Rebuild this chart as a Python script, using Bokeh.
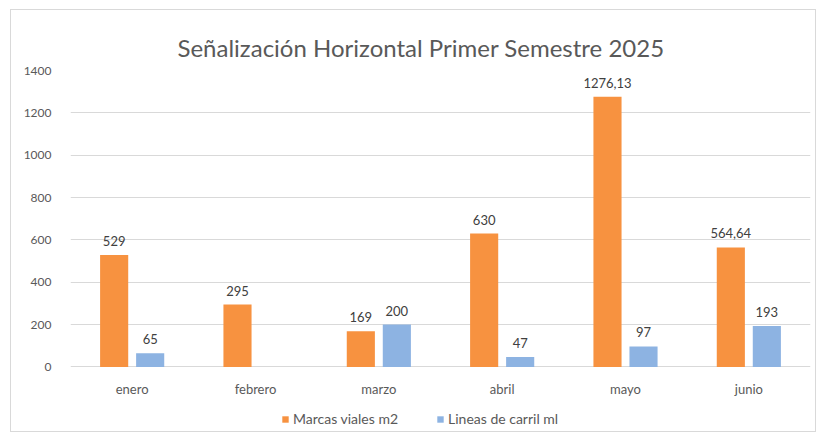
from bokeh.plotting import figure
from bokeh.models import ColumnDataSource, FactorRange, Legend, LegendItem, FixedTicker
from bokeh.transform import dodge
from bokeh.core.properties import value
from bokeh.embed import file_html
from bokeh.resources import INLINE

months = ["enero", "febrero", "marzo", "abril", "mayo", "junio"]
marcas = [529, 295, 169, 630, 1276.13, 564.64]
lineas = [65, None, 200, 47, 97, 193]
y_ticks = [0, 200, 400, 600, 800, 1000, 1200, 1400]
title_text = "Señalización Horizontal Primer Semestre 2025"
series_names = ["Marcas viales m2", "Lineas de carril ml"]

ORANGE = "#F79240"
BLUE = "#8DB3E2"
GRAY = "#595959"
FONT = "Lato"


def fmt(v):
    if v is None:
        return ""
    if float(v).is_integer():
        return str(int(v))
    return ("%.2f" % v).replace(".", ",")


src_m = ColumnDataSource(dict(x=months, y=marcas, lab=[fmt(v) for v in marcas]))
bm = [m for m, v in zip(months, lineas) if v is not None]
bv = [v for v in lineas if v is not None]
src_l = ColumnDataSource(dict(x=bm, y=bv, lab=[fmt(v) for v in bv]))

p = figure(x_range=FactorRange(*months, range_padding=0), y_range=(-300, 1400),
           width=806, height=423, output_backend="svg", toolbar_location=None,
           min_border_left=59, min_border_right=7, min_border_top=60, min_border_bottom=3)
p.styles = {"border": "1px solid #d9d9d9", "margin-left": "10px", "margin-top": "9px"}

p.title.text = title_text
p.title.align = "left"
p.title.offset = 107
p.title.standoff = 18
p.title.text_font = FONT
p.title.text_font_size = "24px"
p.title.text_font_style = "normal"
p.title.text_color = GRAY

OFF = 0.146
W = 0.228
rm = p.vbar(x=dodge("x", -OFF, range=p.x_range), top="y", width=W, source=src_m,
            fill_color=ORANGE, line_color=None)
rl = p.vbar(x=dodge("x", OFF, range=p.x_range), top="y", width=W, source=src_l,
            fill_color=BLUE, line_color=None)

for src, off in ((src_m, -OFF), (src_l, OFF)):
    p.text(x=dodge("x", off, range=p.x_range), y="y", text="lab", source=src,
           text_align="center", text_baseline="bottom", y_offset=-9,
           text_font=value(FONT), text_font_size="13px", text_color="#404040")

p.yaxis.ticker = FixedTicker(ticks=y_ticks)
p.xaxis.fixed_location = 0
for ax in (p.xaxis, p.yaxis):
    ax.axis_line_color = None
    ax.major_tick_line_color = None
    ax.minor_tick_line_color = None
    ax.major_label_text_font = FONT
    ax.major_label_text_font_size = "13px"
    ax.major_label_text_color = GRAY
p.yaxis.major_label_text_font_size = "12px"
p.yaxis.major_label_standoff = 13
p.xaxis.major_label_standoff = 8

p.xgrid.grid_line_color = None
p.ygrid.grid_line_color = "#d9d9d9"
p.ygrid.ticker = FixedTicker(ticks=y_ticks)
p.outline_line_color = None

legend = Legend(items=[LegendItem(label=series_names[0], renderers=[rm]),
                       LegendItem(label=series_names[1], renderers=[rl])],
                location=(211, 3), orientation="horizontal",
                padding=0, margin=0, spacing=38, label_standoff=4,
                glyph_width=8, glyph_height=8, label_height=16,
                label_text_font=FONT, label_text_font_size="14px", label_text_color=GRAY,
                border_line_color=None, background_fill_alpha=0)
p.add_layout(legend)

open("out.html", "w").write(file_html(p, INLINE))
